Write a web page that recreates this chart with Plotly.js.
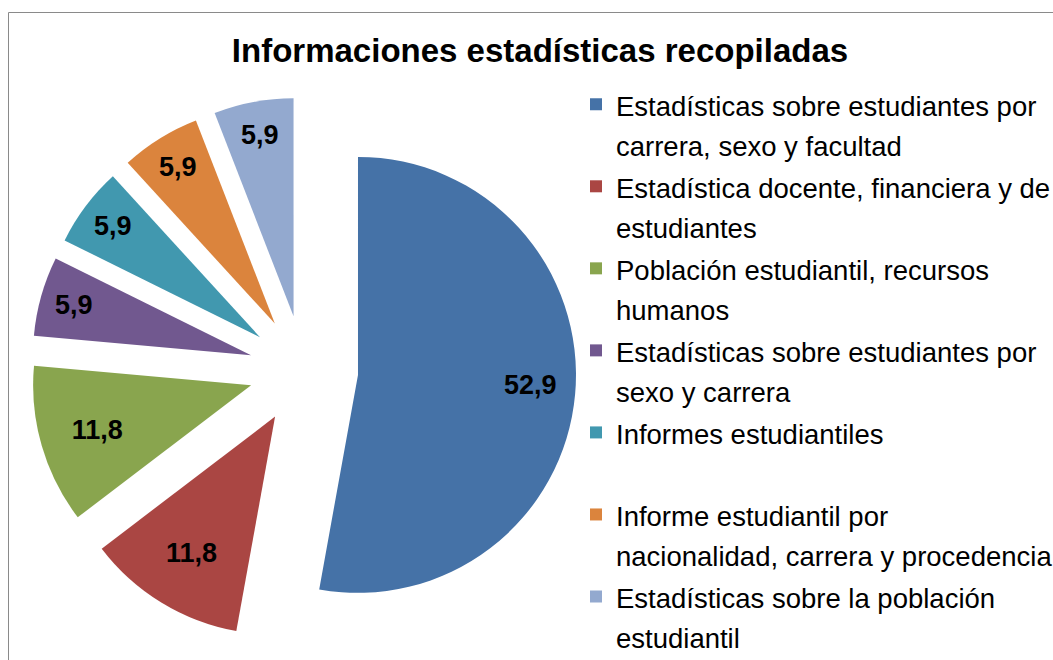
<!DOCTYPE html>
<html>
<head>
<meta charset="utf-8">
<script src="https://cdn.plot.ly/plotly-3.0.1.min.js"></script>
<style>html,body{margin:0;padding:0;background:#fff;}#chart{width:1053px;height:660px;}</style>
</head>
<body>
<div id="chart"></div>
<script>
const categories = [
  "Estadísticas sobre estudiantes por<br>carrera, sexo y facultad",
  "Estadística docente, financiera y de<br>estudiantes",
  "Población estudiantil, recursos<br>humanos",
  "Estadísticas sobre estudiantes por<br>sexo y carrera",
  "Informes estudiantiles<br> ",
  "Informe estudiantil por<br>nacionalidad, carrera y procedencia",
  "Estadísticas sobre la población<br>estudiantil"
];
const values = [52.9, 11.8, 11.8, 5.9, 5.9, 5.9, 5.9];
const colors = ["#4572A7", "#AA4643", "#89A54E", "#71588F", "#4198AF", "#DB843D", "#93A9CF"];
const chartTitle = "Informaciones estadísticas recopiladas";

const W = 1053, H = 660;
const LEGEND_TEXT_PX = 27.5;

// legend labels: each line rendered at the text size, line pitch driven by legend font size
const legendLabels = categories.map(c =>
  c.split("<br>").map(s => '<span style="font-size:' + LEGEND_TEXT_PX + 'px">' + s + '</span>').join("<br>")
);

// the big slice's label is nudged outward with leading no-break spaces
const textTemplates = values.map((v, i) =>
  (i === 0 ? "\u00A0".repeat(17) : "") + "%{value}"
);

const trace = {
  type: "pie",
  labels: legendLabels,
  values: values,
  sort: false,
  direction: "clockwise",
  rotation: 0,
  pull: values.map(() => 0.2505),
  marker: { colors: colors, line: { width: 0 } },
  texttemplate: textTemplates,
  textposition: "inside",
  insidetextorientation: "horizontal",
  textfont: { family: "Liberation Sans, Arial, sans-serif", size: 27, color: "#000000", weight: "bold" },
  hoverinfo: "label+value",
  domain: { x: [31 / W, 576.2 / W], y: [1 - 642.6 / H, 1 - 97.4 / H] }
};

const layout = {
  width: W,
  height: H,
  margin: { l: 0, r: 0, t: 0, b: 0, autoexpand: false },
  paper_bgcolor: "#ffffff",
  separators: ",.",
  title: {
    text: "<b>" + chartTitle + "</b>",
    x: 540 / W, xanchor: "center", xref: "paper",
    y: 1 - 50 / H, yanchor: "middle", yref: "paper",
    font: { family: "Liberation Sans, Arial, sans-serif", size: 33, color: "#000000" }
  },
  showlegend: true,
  legend: {
    x: 576 / W, xanchor: "left",
    y: 1 - 78 / H, yanchor: "top",
    valign: "top",
    font: { family: "Liberation Sans, Arial, sans-serif", size: 30.4, color: "#000000" },
    bgcolor: "rgba(0,0,0,0)"
  },
  shapes: [{
    type: "rect", xref: "paper", yref: "paper",
    x0: 8.5 / W, x1: 1.05, y0: -0.05, y1: 1 - 12.5 / H,
    line: { color: "#8a8a8a", width: 1 }, fillcolor: "rgba(0,0,0,0)", layer: "below"
  }]
};

Plotly.newPlot("chart", [trace], layout, { displayModeBar: false, staticPlot: true });
</script>
</body>
</html>
